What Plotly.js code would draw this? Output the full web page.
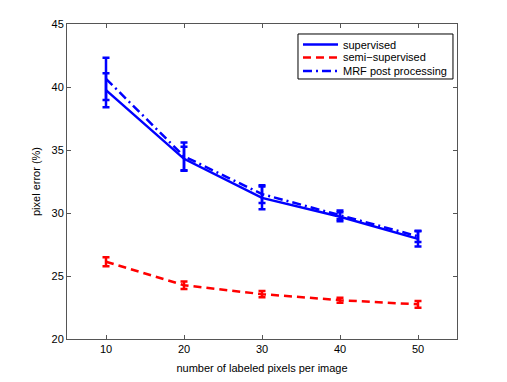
<!DOCTYPE html>
<html>
<head>
<meta charset="utf-8">
<script src="https://cdn.plot.ly/plotly-3.0.1.min.js"></script>
<style>
  html, body { margin: 0; padding: 0; background: #fff; }
  #plot { width: 507px; height: 382px; }
</style>
</head>
<body>
<div id="plot"></div>
<script>
// labeled pixels per image
var nPixels = [10, 20, 30, 40, 50];

// pixel error (%) and error bar half widths
var supervised    = [39.75, 34.3, 31.2, 29.7, 27.95];
var supervisedErr = [1.35, 0.95, 0.9, 0.35, 0.6];
var semi          = [26.13, 24.27, 23.56, 23.08, 22.75];
var semiErr       = [0.35, 0.3, 0.25, 0.2, 0.27];
var mrf           = [40.65, 34.5, 31.5, 29.85, 28.15];
var mrfErr        = [1.68, 1.1, 0.7, 0.35, 0.45];

var seriesNames = ['supervised', 'semi\u2212supervised', 'MRF post processing'];

var fnt = {family: 'Liberation Sans, Arial, sans-serif', size: 11, color: '#000'};

function errBar(vals, col) {
  return {type: 'data', array: vals, visible: true, color: col, thickness: 2.5, width: 3.5};
}

var data = [
  {
    x: nPixels, y: supervised, name: seriesNames[0],
    type: 'scatter', mode: 'lines',
    line: {color: '#0000ff', width: 2.5},
    error_y: errBar(supervisedErr, '#0000ff')
  },
  {
    x: nPixels, y: semi, name: seriesNames[1],
    type: 'scatter', mode: 'lines',
    line: {color: '#ff0000', width: 2.5, dash: '8px,5px'},
    error_y: errBar(semiErr, '#ff0000')
  },
  {
    x: nPixels, y: mrf, name: seriesNames[2],
    type: 'scatter', mode: 'lines',
    line: {color: '#0000ff', width: 2.5, dash: '9px,4px,2px,4px'},
    error_y: errBar(mrfErr, '#0000ff')
  }
];

// matlab style legend box (plotly's own legend rows are too tall)
var shapes = [{
  type: 'rect', xref: 'paper', yref: 'paper',
  x0: 0.5923, x1: 0.9897, y0: 0.8254, y1: 0.9683,
  line: {color: '#000', width: 1}, fillcolor: '#fff', layer: 'above'
}];
var annotations = [];
var rowY = [0.9349, 0.8937, 0.8508];
for (var i = 0; i < data.length; i++) {
  shapes.push({
    type: 'line', xref: 'paper', yref: 'paper',
    x0: 0.6051, x1: 0.6949, y0: rowY[i], y1: rowY[i],
    line: {color: data[i].line.color, width: 2.5, dash: data[i].line.dash || 'solid'},
    layer: 'above'
  });
  annotations.push({
    xref: 'paper', yref: 'paper', x: 0.7026, y: rowY[i],
    xanchor: 'left', yanchor: 'middle', showarrow: false,
    text: data[i].name, font: fnt
  });
}

var layout = {
  width: 507, height: 382,
  margin: {l: 67, r: 50, t: 24, b: 43},
  paper_bgcolor: '#fff', plot_bgcolor: '#fff',
  font: fnt,
  showlegend: false,
  shapes: shapes,
  annotations: annotations,
  xaxis: {
    range: [5, 55], tickvals: [10, 20, 30, 40, 50],
    ticks: 'inside', ticklen: 4, tickcolor: '#555',
    showline: true, linecolor: '#555', linewidth: 1, mirror: 'ticks',
    showgrid: false, zeroline: false,
    title: {text: 'number of labeled pixels per image', font: fnt, standoff: 10}
  },
  yaxis: {
    range: [20, 45], tickvals: [20, 25, 30, 35, 40, 45],
    ticks: 'inside', ticklen: 4, tickcolor: '#555',
    showline: true, linecolor: '#555', linewidth: 1, mirror: 'ticks',
    showgrid: false, zeroline: false,
    title: {text: 'pixel error (%)', font: fnt, standoff: 8}
  }
};

Plotly.newPlot('plot', data, layout, {staticPlot: true});
</script>
</body>
</html>
